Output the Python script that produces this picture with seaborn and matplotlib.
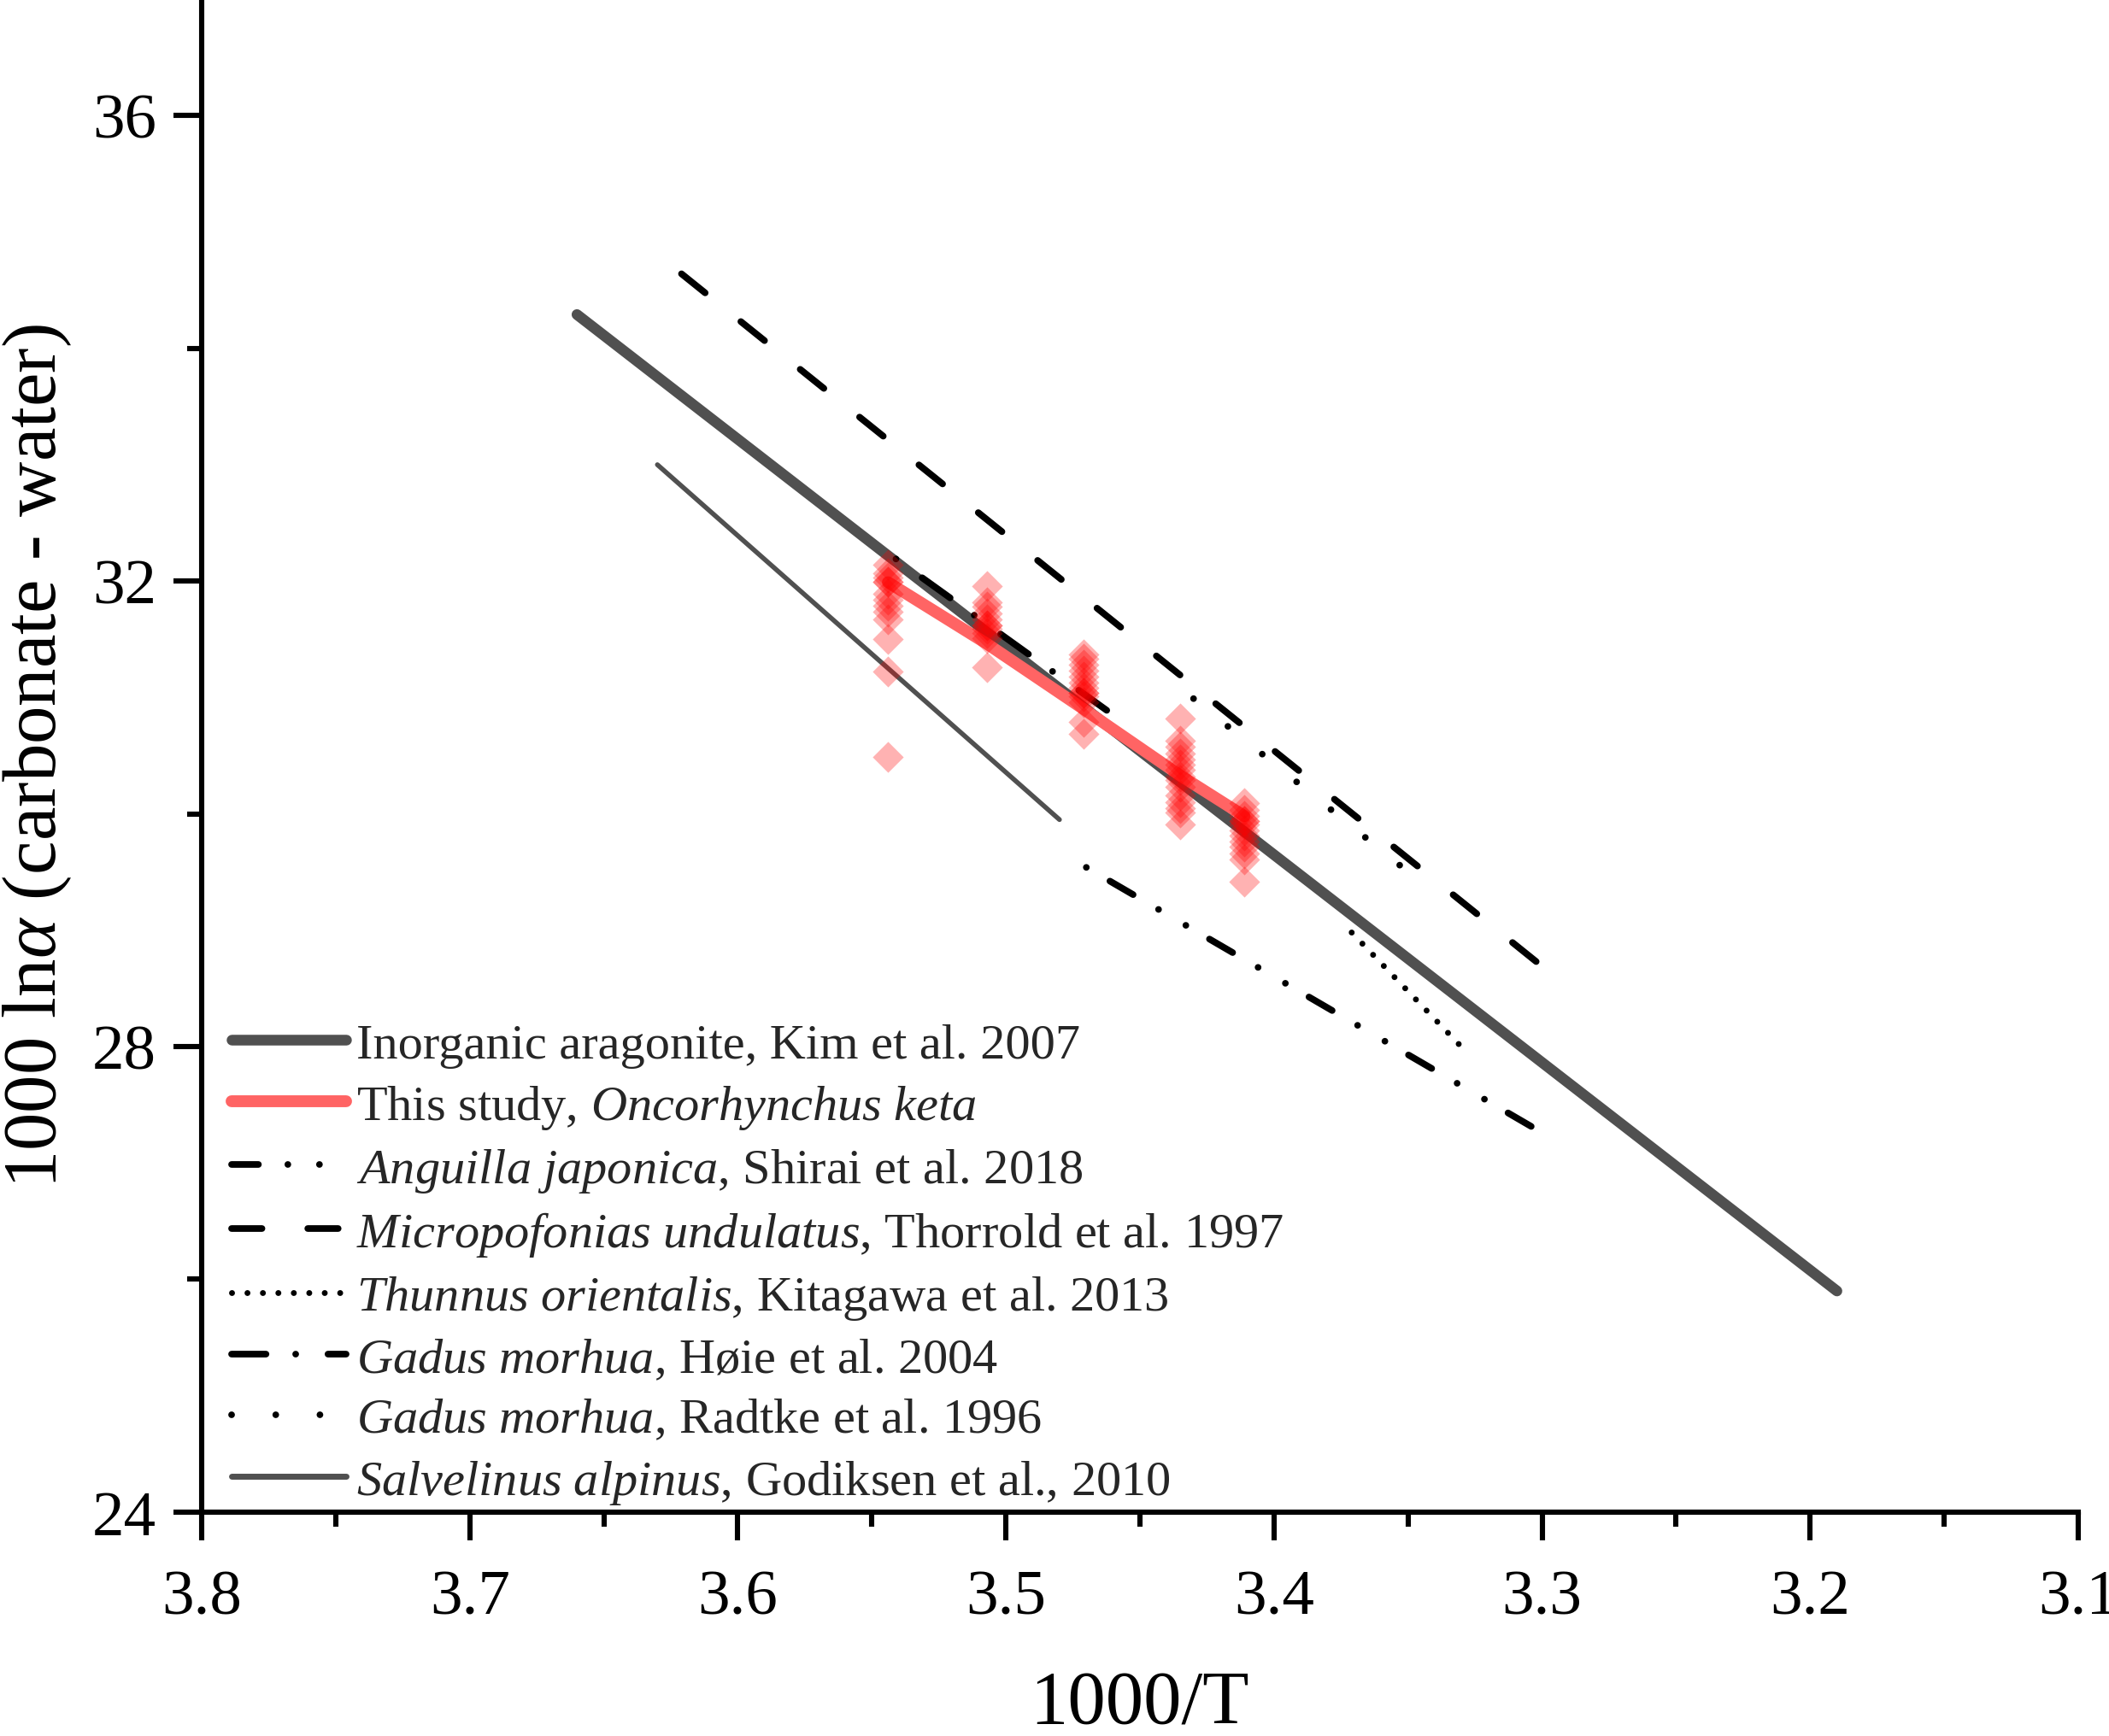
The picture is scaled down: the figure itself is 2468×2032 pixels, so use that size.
import pandas as pd
import seaborn as sns
import matplotlib.pyplot as plt
from matplotlib.ticker import MultipleLocator, FormatStrFormatter

# x = 1000/T, y = 1000 ln(alpha); end points
KIM_X = [3.660, 3.190]
KIM_Y = [34.29, 25.90]
STUDY_X = [3.544, 3.507, 3.471, 3.435, 3.411]
STUDY_Y = [31.99, 31.46, 30.90, 30.33, 29.98]
SHIRAI_X = [3.470, 3.300]
SHIRAI_Y = [29.54, 27.26]
THORROLD_X = [3.621, 3.300]
THORROLD_Y = [34.64, 28.69]
KITAGAWA_X = [3.371, 3.331]
KITAGAWA_Y = [28.98, 28.02]
HOIE_X = [3.541, 3.460]
HOIE_Y = [32.19, 30.85]
RADTKE_X = [3.430, 3.351]
RADTKE_Y = [30.99, 29.52]
GODIKSEN_X = [3.630, 3.480]
GODIKSEN_Y = [33.00, 29.95]

# otolith values of this study, one list per rearing temperature
GROUP_X = [3.544, 3.507, 3.471, 3.435, 3.411]
GROUP_1 = [32.14, 32.07, 32.03, 31.99, 31.99, 31.89, 31.84, 31.79, 31.74,
           31.67, 31.50, 31.22, 30.49]
GROUP_2 = [31.96, 31.82, 31.78, 31.72, 31.67, 31.62, 31.62, 31.59, 31.55,
           31.51, 31.26]
GROUP_3 = [31.37, 31.33, 31.28, 31.23, 31.18, 31.13, 31.08, 31.04, 31.04,
           31.01, 30.96, 30.79, 30.69]
GROUP_4 = [30.82, 30.63, 30.58, 30.52, 30.47, 30.42, 30.38, 30.32, 30.29,
           30.23, 30.16, 30.10, 30.05, 30.01, 29.91]
GROUP_5 = [30.09, 30.03, 29.98, 29.94, 29.94, 29.91, 29.86, 29.81, 29.76,
           29.72, 29.66, 29.61, 29.42]

LABELS = [
    "Inorganic aragonite, Kim et al. 2007",
    r"This study, $\mathit{Oncorhynchus\ keta}$",
    r"$\mathit{Anguilla\ japonica}$, Shirai et al. 2018",
    r"$\mathit{Micropofonias\ undulatus}$, Thorrold et al. 1997",
    r"$\mathit{Thunnus\ orientalis}$, Kitagawa et al. 2013",
    r"$\mathit{Gadus\ morhua}$, Høie et al. 2004",
    r"$\mathit{Gadus\ morhua}$, Radtke et al. 1996",
    r"$\mathit{Salvelinus\ alpinus}$, Godiksen et al., 2010",
]

GRAY = "#505050"
RED = "#ff6464"
BLACK_LW = 2.8

sns.set_theme(style="ticks")
plt.rcParams["font.family"] = ["Liberation Serif", "DejaVu Serif"]
plt.rcParams["mathtext.fontset"] = "custom"
plt.rcParams["mathtext.rm"] = "Liberation Serif"
plt.rcParams["mathtext.it"] = "Liberation Serif:italic"
plt.rcParams["lines.scale_dashes"] = False
plt.rcParams["axes.linewidth"] = 2.2

points = pd.DataFrame({
    "x": sum([[gx] * len(g) for gx, g in
              zip(GROUP_X, [GROUP_1, GROUP_2, GROUP_3, GROUP_4, GROUP_5])], []),
    "y": GROUP_1 + GROUP_2 + GROUP_3 + GROUP_4 + GROUP_5,
})

fig = plt.figure(figsize=(12.34, 10.165), dpi=200)
ax = fig.add_axes([0.0956, 0.1289, 0.8898, 0.8711])

common = dict(ax=ax, sort=False, dash_capstyle="round", solid_capstyle="round")
sns.lineplot(x=KIM_X, y=KIM_Y, color=GRAY, lw=4.5, label=LABELS[0], zorder=2, **common)
sns.lineplot(x=STUDY_X, y=STUDY_Y, color=RED, lw=5.0, label=LABELS[1], zorder=4, **common)
sns.lineplot(x=SHIRAI_X, y=SHIRAI_Y, color="black", lw=BLACK_LW, label=LABELS[2], zorder=3,
             linestyle=(37.0, (11.3, 12.4, 0.01, 13.3, 0.01, 11.5)), **common)
sns.lineplot(x=THORROLD_X, y=THORROLD_Y, color="black", lw=BLACK_LW, label=LABELS[3], zorder=3,
             linestyle=(0, (12.8, 19.3)), **common)
sns.lineplot(x=KITAGAWA_X, y=KITAGAWA_Y, color="black", lw=2.5, label=LABELS[4], zorder=3,
             linestyle=(0, (0.01, 6.5)), **common)
sns.lineplot(x=HOIE_X, y=HOIE_Y, color="black", lw=BLACK_LW, label=LABELS[5], zorder=3,
             linestyle=(0, (0.01, 13.6, 14.5, 12.5)), **common)
sns.lineplot(x=RADTKE_X, y=RADTKE_Y, color="black", lw=BLACK_LW, label=LABELS[6], zorder=3,
             linestyle=(0, (0.01, 18.6)), **common)
sns.lineplot(x=GODIKSEN_X, y=GODIKSEN_Y, color=GRAY, lw=2.0, label=LABELS[7], zorder=3,
             **common)

sns.scatterplot(data=points, x="x", y="y", ax=ax, marker="D", s=85, color="red",
                alpha=0.3, linewidth=0, legend=False, zorder=5)

ax.set_xlim(3.8, 3.1)
ax.set_ylim(24, 37.0)
ax.xaxis.set_major_locator(MultipleLocator(0.1))
ax.xaxis.set_minor_locator(MultipleLocator(0.05))
ax.xaxis.set_major_formatter(FormatStrFormatter("%.1f"))
ax.yaxis.set_major_locator(MultipleLocator(4))
ax.yaxis.set_minor_locator(MultipleLocator(2))
ax.tick_params(which="major", length=12, width=2.2, direction="out", labelsize=27,
               color="black", labelcolor="black")
ax.tick_params(which="minor", length=6, width=2.2, direction="out", color="black")
ax.tick_params(axis="x", which="major", pad=12)
ax.tick_params(axis="y", which="major", pad=7)
for side in ["top", "right"]:
    ax.spines[side].set_visible(False)
for side in ["left", "bottom"]:
    ax.spines[side].set_color("black")

ax.set_xlabel("1000/T", fontsize=32, labelpad=18, color="black")
ax.set_ylabel(r"1000 ln$\alpha$ (carbonate - water)", fontsize=32, labelpad=8,
              color="black")

handles, labels = ax.get_legend_handles_labels()
leg = ax.legend(handles, labels, loc="lower left", bbox_to_anchor=(0.016, 0.004),
                frameon=False, fontsize=21, handlelength=2.3, handletextpad=0.2,
                labelspacing=0.31, borderpad=0, borderaxespad=0)
# legend samples start on a dash, like the original
leg.get_lines()[5].set_linestyle((13.61, (0.01, 13.6, 14.5, 12.5)))
leg.get_lines()[2].set_linestyle((0, (11.3, 12.4, 0.01, 13.3, 0.01, 11.5)))
leg.get_lines()[7].set_linewidth(2.5)

fig.savefig("out.png", dpi=200)
